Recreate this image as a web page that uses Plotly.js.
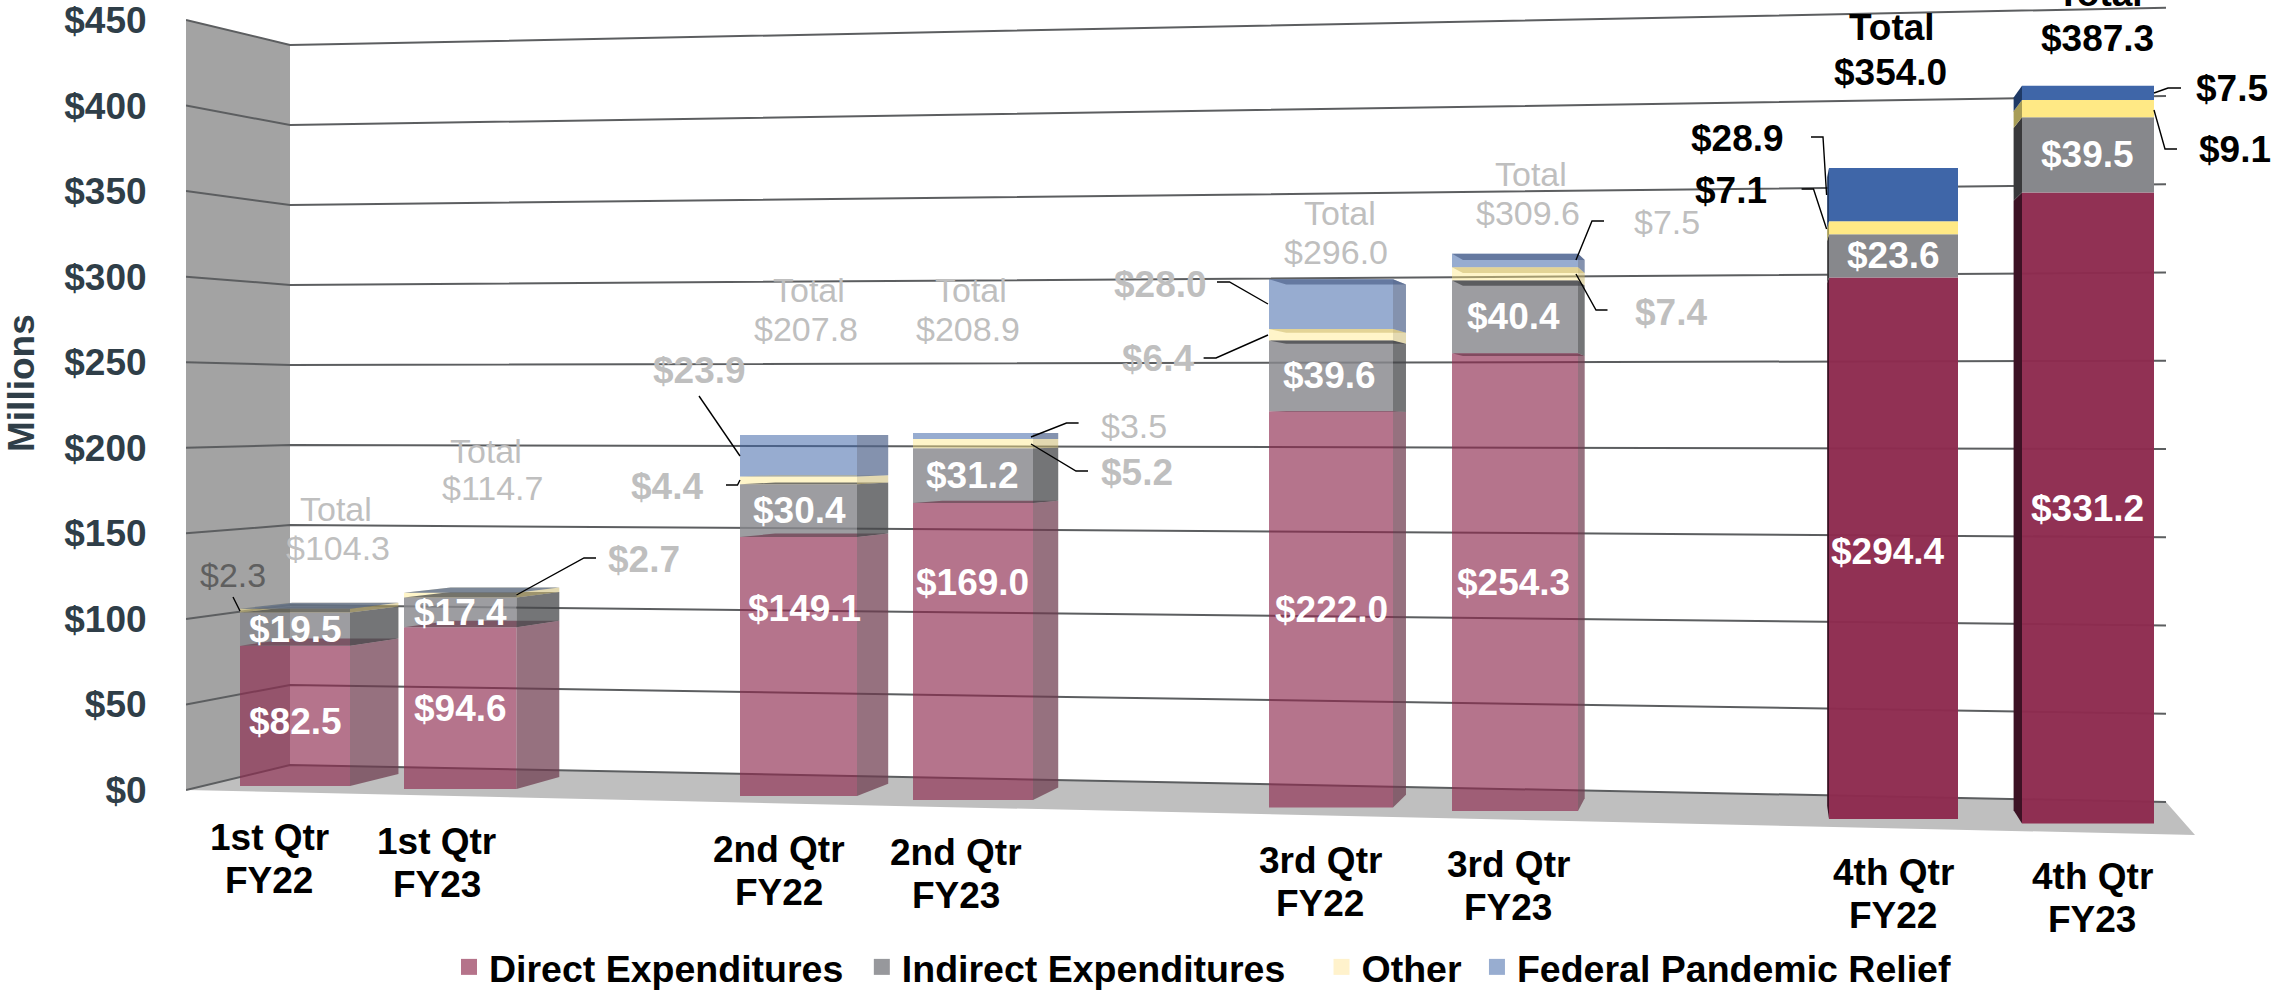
<!DOCTYPE html>
<html>
<head>
<meta charset="utf-8">
<script src="https://cdn.plot.ly/plotly-3.0.1.min.js"></script>
<style>html,body{margin:0;padding:0;background:#fff;overflow:hidden}#chart{width:2272px;height:990px}</style>
</head>
<body>
<div id="chart"></div>
<script>
// ---------- chart values ----------
const quarters = ["1st Qtr","1st Qtr","2nd Qtr","2nd Qtr","3rd Qtr","3rd Qtr","4th Qtr","4th Qtr"];
const years    = ["FY22","FY23","FY22","FY23","FY22","FY23","FY22","FY23"];
const direct   = [82.5,94.6,149.1,169.0,222.0,254.3,294.4,331.2];
const indirect = [19.5,17.4,30.4,31.2,39.6,40.4,23.6,39.5];
const other    = [2.3,2.7,4.4,5.2,6.4,7.4,7.1,9.1];
const federal  = [0,0,23.9,3.5,28.0,7.5,28.9,7.5];
const totals   = [104.3,114.7,207.8,208.9,296.0,309.6,354.0,387.3];
const seriesNames = ["Direct Expenditures","Indirect Expenditures","Other","Federal Pandemic Relief"];
const valueTicks = [0,50,100,150,200,250,300,350,400,450];

// ---------- perspective layout (pixels of the 2272x990 page) ----------
const W=2272,H=990,AXL=186,Y0=790,PXU=770/450;
const barL =[240,404,740,913,1269,1452,1829,2022];
const barR =[350,516.5,857,1033,1393,1578,1958,2154];
const floorY=[786,789,796,800,807.5,811,819,823.5];
const unitPx=[1.70,1.71,1.737,1.757,1.785,1.80,1.839,1.905];
const VX=1775,VY=435,K=0.966;
const toV=py=>(Y0-py)/PXU;              // page y -> value axis
const backX=x=>VX+(x-VX)*K, backY=y=>VY+(y-VY)*K;

const series=[direct,indirect,other,federal];
const solid =["rgba(141,42,78,0.97)","rgba(135,136,140,1)","rgba(255,233,133,1)","rgba(63,102,168,1)"];
const faded =["rgba(141,42,78,0.65)","rgba(135,136,140,0.82)","rgba(255,233,133,0.44)","rgba(63,102,168,0.54)"];
const sideF =["rgba(110,58,77,0.72)","rgba(70,71,74,0.75)","rgba(200,180,100,0.5)","rgba(80,100,140,0.7)"];
const sideS =["#3c1224","#39393b","#a89d57","#1f3a66"];
const legendColors=["#b5738a","#97989c","#fff2cc","#98add0"];
const legendPad=["\u00a0\u200a","\u00a0\u00a0\u00a0","\u00a0",""];
const isSolid=i=>i>=6;

const traces=[];
// stacked fronts, real bars through the value axis
const cum=direct.map(()=>0);
const segs=[];
series.forEach((vals,s)=>{
  const base=[],hgt=[];
  vals.forEach((v,i)=>{
    const y0=floorY[i]-unitPx[i]*cum[i], y1=y0-unitPx[i]*v;
    base.push(toV(y0)); hgt.push(toV(y1)-toV(y0));
    segs.push({s,i,v,y0,y1});
    cum[i]+=v;
  });
  traces.push({type:"bar",name:seriesNames[s],showlegend:false,
    x:barL.map((l,i)=>(l+barR[i])/2),width:barL.map((l,i)=>barR[i]-l),
    y:hgt,base:base,marker:{color:vals.map((_,i)=>isSolid(i)?solid[s]:faded[s]),line:{width:0}},hoverinfo:"skip"});
});
// side and top faces
segs.forEach(g=>{
  const {s,i,y0,y1}=g;
  const sx=barR[i]<VX?barR[i]:barL[i];
  const color=isSolid(i)?sideS[s]:sideF[s];
  const poly=(xs,ys,c)=>traces.push({type:"scatter",mode:"lines",x:xs,y:ys.map(toV),fill:"toself",fillcolor:c,
     line:{width:0},showlegend:false,hoverinfo:"skip",cliponaxis:false});
  if(g.v>0) poly([sx,sx,backX(sx),backX(sx),sx],[y0,y1,backY(y1),backY(y0),y0],color);
  if(!isSolid(i)){
    poly([barL[i],barR[i],backX(barR[i]),backX(barL[i]),barL[i]],[y1,y1,backY(y1),backY(y1),y1],color);
  }
});
// legend entries
seriesNames.forEach((n,s)=>traces.push({type:"scatter",mode:"markers",name:n+legendPad[s],x:[null],y:[null],
  marker:{symbol:"square",size:19,color:legendColors[s]},hoverinfo:"skip"}));

// ---------- callouts: [series value, label x, label y, bold, colour, leader points] ----------
const GR="#bfbfbf",BK="#000000";
const callouts=[
 [other[0],233,575,false,"#5f5f5f",[[233,597],[240,611]]],
 [other[1],644,559,true,GR,[[596,558],[584,558],[516.5,595]]],
 [federal[2],699.5,370,true,GR,[[699,396],[740,456]]],
 [other[2],667,486,true,GR,[[726,485],[737.5,485],[740,480]]],
 [federal[3],1133.5,426,false,GR,[[1078.6,423],[1066.5,423],[1031,437]]],
 [other[3],1137,472,true,GR,[[1088,471],[1076,471],[1031,444]]],
 [federal[4],1160,284,true,GR,[[1217,282],[1229.5,282],[1268,304]]],
 [other[4],1158,358,true,GR,[[1203.6,358],[1216,358],[1268,335]]],
 [federal[5],1667,222,false,GR,[[1604,221],[1592,221],[1576,260]]],
 [other[5],1671,312,true,GR,[[1607.5,310],[1596,310],[1576,274]]],
 [federal[6],1737,138,true,BK,[[1811,137],[1823,137],[1826.6,195]]],
 [other[6],1731,190,true,BK,[[1801.6,189],[1813.5,189],[1826.6,229]]],
 [federal[7],2232,88,true,BK,[[2181,88],[2168,88],[2154,93]]],
 [other[7],2235,149,true,BK,[[2177,149],[2165,149],[2154,110]]]
];
const lx=[],ly=[];
callouts.forEach(c=>{c[5].forEach(p=>{lx.push(p[0]);ly.push(toV(p[1]));});lx.push(null);ly.push(null);});
traces.push({type:"scatter",mode:"lines",x:lx,y:ly,line:{color:"#000",width:1.4},showlegend:false,hoverinfo:"skip",connectgaps:false});

// ---------- text ----------
const fmt=v=>"$"+v.toFixed(1);
const FONT="'Liberation Sans', Arial, sans-serif";
const note=(text,x,y,size,color,bold,extra)=>Object.assign({
  text:bold?"<b>"+text+"</b>":text,x:x,y:toV(y),xref:"x",yref:"y",showarrow:false,
  xanchor:"center",yanchor:"middle",font:{family:FONT,size:size,color:color},borderpad:0},extra||{});
const ann=[];
// inside labels: x/y nudges from the centre of each segment
const insideNudge={ "0,0":[0,6], "0,2":[6,-58], "0,3":[-1,-69], "0,5":[-2,0], "0,6":[-5.5,3], "0,7":[-1,0], "1,2":[0.5,0], "1,3":[-1,0], "1,4":[-2,0], "1,5":[-2,0], "1,7":[-1,0] };
segs.forEach(g=>{
  if(g.s>1) return;
  const n=insideNudge[g.s+","+g.i]||[0,0];
  ann.push(note(fmt(g.v),(barL[g.i]+barR[g.i])/2+n[0],(g.y0+g.y1)/2+n[1],37,"#ffffff",true));
});
callouts.forEach(c=>ann.push(note(fmt(c[0]),c[1],c[2],c[3]?37:34,c[4],c[3])));
// totals
const totalWordPos=[[336,509],[486,451],[809,290],[971,290],[1340,213],[1531,174],[1892,27],[2100,-7]];
const totalValuePos=[[337.5,548],[492,488],[806,329],[968,329],[1336,252],[1528,213],[1890,72],[2097,38]];
totals.forEach((t,i)=>{
  const b=isSolid(i),c=b?BK:GR,z=b?37:34;
  const wy=totalWordPos[i][1];
  ann.push(note("Total",totalWordPos[i][0],wy,z,c,b,wy<0?{yref:"paper",y:1-wy/H}:{}));
  ann.push(note(fmt(t),totalValuePos[i][0],totalValuePos[i][1],z,c,b));
});
// category labels
const catX=[269,436.6,779,956,1320,1508,1893,2092];
const catY=[837,841,849,852,860,864,872,876];
quarters.forEach((q,i)=>{
  ann.push(note(q,catX[i],catY[i],37,BK,true));
  ann.push(note(years[i],catX[i],catY[i]+43,37,BK,true));
});
// axis word
ann.push(Object.assign(note("Millions",21,383,37,"#2f3e48",true),{xref:"paper",x:(21-AXL)/(W-AXL),textangle:-90}));

// ---------- wall, floor, grid (under the bars) ----------
const pathOf=(pts)=>"M"+pts.map(p=>p[0]+","+toV(p[1])).join("L")+"Z";
const shapes=[
 {type:"path",xref:"x",yref:"y",layer:"below",path:pathOf([[186,20],[290,45],[290,765],[186,790]]),fillcolor:"#a3a3a3",line:{width:0}},
 {type:"path",xref:"x",yref:"y",layer:"below",path:pathOf([[186,790],[290,765],[2166,802],[2195,835]]),fillcolor:"#bfbfbf",line:{width:0}}
];
valueTicks.forEach(v=>{
  const a=790-PXU*v,b=765-1.6*v,c=802-1.765*v;
  shapes.push({type:"path",xref:"x",yref:"y",layer:"below",
    path:"M186,"+toV(a)+"L290,"+toV(b)+"L2166,"+toV(c),fillcolor:"rgba(0,0,0,0)",line:{color:"#5c5e60",width:2}});
});

const layout={
  width:W,height:H,margin:{l:AXL,r:0,t:0,b:0,pad:0,autoexpand:false},
  paper_bgcolor:"#fff",plot_bgcolor:"rgba(0,0,0,0)",barmode:"overlay",hovermode:false,
  font:{family:FONT},
  xaxis:{range:[AXL,W],visible:false,fixedrange:true},
  yaxis:{range:[toV(H),toV(0)],tickmode:"array",tickvals:valueTicks,ticktext:valueTicks.map(v=>"$"+v),
    ticks:"outside",ticklen:31,tickcolor:"rgba(0,0,0,0)",showgrid:false,zeroline:false,showline:false,ticklabeloverflow:"allow",
    tickfont:{family:FONT,size:37,color:"#2f3e48",weight:"bold"},fixedrange:true},
  legend:{orientation:"h",x:(449-AXL)/(W-AXL),xanchor:"left",y:(H-967)/H,yanchor:"middle",
    font:{family:FONT,size:37.5,color:"#000",weight:"bold"},bgcolor:"rgba(0,0,0,0)",itemclick:false,itemdoubleclick:false,traceorder:"normal"},
  shapes:shapes,annotations:ann
};
Plotly.newPlot("chart",traces,layout,{displayModeBar:false,staticPlot:true});
</script>
</body>
</html>
